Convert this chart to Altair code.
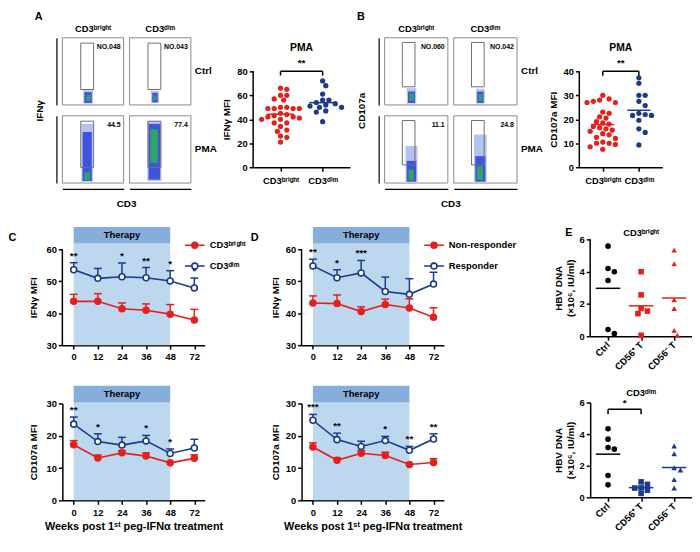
import altair as alt
import pandas as pd

FONT = "Liberation Sans"
RED = "#E3211C"
NAVY = "#1B3A8A"
LIGHT = "#BDD7EE"
HEAD = "#85AEDC"
BRIGHT = "CD3ᵇʳⁱᵍʰᵗ"
DIM = "CD3ᵈⁱᵐ"

# ---------------- A / B flow dot plots (fractions of each frame) ----------------
flow_rows = ["Ctrl", "Ctrl", "PMA", "PMA"]
flow_cols = [BRIGHT, DIM, BRIGHT, DIM]
a_pct = ["NO.048", "NO.043", "44.5", "77.4"]
b_pct = ["NO.060", "NO.042", "11.1", "24.8"]
a_gate = [0.30, 0.51, 0.23, 0.92]
b_gate = [0.28, 0.48, 0.27, 0.93]
a_outer = [[0.34, 0.50, 0.02, 0.22], [0.35, 0.48, 0.03, 0.21], [0.31, 0.50, 0.02, 0.88], [0.29, 0.52, 0.03, 0.92]]
a_mid = [[0.36, 0.48, 0.03, 0.19], [0.37, 0.46, 0.04, 0.18], [0.33, 0.48, 0.03, 0.76], [0.31, 0.50, 0.05, 0.88]]
a_core = [[0.39, 0.46, 0.06, 0.15], [0.39, 0.44, 0.07, 0.14], [0.36, 0.45, 0.04, 0.16], [0.34, 0.46, 0.30, 0.80]]
b_outer = [[0.35, 0.50, 0.02, 0.25], [0.35, 0.49, 0.02, 0.24], [0.33, 0.52, 0.02, 0.55], [0.32, 0.52, 0.02, 0.72]]
b_mid = [[0.37, 0.48, 0.03, 0.20], [0.37, 0.47, 0.03, 0.20], [0.35, 0.50, 0.02, 0.33], [0.34, 0.50, 0.02, 0.40]]
b_core = [[0.39, 0.46, 0.06, 0.17], [0.39, 0.45, 0.06, 0.16], [0.38, 0.46, 0.04, 0.20], [0.37, 0.46, 0.05, 0.25]]

# ---------------- A / B PMA scatter (MFI) ----------------
a_bright = [66, 65, 60, 60, 57, 56, 50, 50, 49, 49, 49, 49, 45, 44, 43, 42, 42, 41, 40, 40, 37, 37, 34, 31, 30, 26, 25, 21]
a_dim = [72, 68, 61, 56, 56, 54, 53, 52, 51, 50, 50, 47, 46, 38]
b_bright = [30, 28.5, 28, 27.5, 27, 27, 23, 22.5, 21, 20.5, 19, 18.5, 18, 17, 16.5, 16, 15.5, 15, 14, 13.5, 12.5, 12, 10.5, 10, 10, 9.5, 8.5, 7.5]
b_dim = [37.3, 35, 30, 30, 27.5, 25.7, 22.5, 22, 21.6, 21.6, 19.6, 16, 14.5, 9.3]

# ---------------- C / D time courses ----------------
weeks = ["0", "12", "24", "36", "48", "72"]
c_ifn_bright = [43.7, 43.7, 41.4, 40.9, 39.7, 37.9]
c_ifn_bright_top = [45.9, 46.1, 43.2, 42.9, 42.7, 41.2]
c_ifn_dim = [53.6, 50.9, 51.4, 51.1, 50.1, 47.9]
c_ifn_dim_top = [55.8, 54.0, 55.7, 54.3, 53.3, 51.0]
c_ifn_stars = ["**", "", "*", "**", "*", "*"]
c_cd107_bright = [17.2, 13.1, 14.7, 13.7, 11.6, 13.0]
c_cd107_bright_top = [18.5, 14.0, 15.4, 14.7, 12.0, 14.1]
c_cd107_dim = [23.6, 18.2, 17.1, 18.4, 14.5, 16.2]
c_cd107_dim_top = [25.8, 20.6, 19.5, 20.1, 15.9, 18.9]
c_cd107_stars = ["**", "*", "", "*", "*", ""]
d_ifn_non = [43.2, 43.0, 40.5, 42.7, 41.6, 38.7]
d_ifn_non_top = [45.4, 45.7, 42.0, 44.4, 44.5, 41.7]
d_ifn_resp = [54.8, 51.1, 52.6, 46.8, 45.9, 49.1]
d_ifn_resp_top = [56.9, 53.6, 56.5, 51.3, 50.8, 52.8]
d_ifn_stars = ["**", "*", "***", "", "", "*"]
d_cd107_non = [16.5, 12.4, 14.6, 13.9, 11.1, 11.7]
d_cd107_non_top = [17.8, 13.2, 15.4, 14.9, 11.4, 12.9]
d_cd107_resp = [24.8, 18.8, 16.7, 18.5, 15.5, 19.0]
d_cd107_resp_top = [26.6, 20.8, 18.3, 19.8, 16.7, 20.6]
d_cd107_stars = ["***", "**", "", "*", "**", "**"]

# ---------------- E HBV DNA ----------------
e_groups = ["Ctrl", "CD56⁺ T", "CD56⁻ T"]
e_top_ctrl = [5.58, 4.2, 4.0, 3.45, 0.42, 0.16]
e_top_pos = [4.0, 2.56, 1.72, 1.56, 1.4, 0.06]
e_top_neg = [5.33, 4.48, 2.26, 1.72, 0.36, 0.06]
e_bot_ctrl = [4.34, 3.68, 3.15, 3.05, 1.38, 0.79]
e_bot_pos = [0.98, 0.82, 0.6, 0.59, 0.45, 0.25]
e_bot_neg = [3.25, 2.76, 1.87, 1.73, 1.12, 0.59]

IND = dict(color="independent", stroke="independent", fill="independent", shape="independent")


def mean(v):
    return sum(v) / len(v)


def swarm(vals, ypx, xpx, diam):
    order = sorted(range(len(vals)), key=lambda i: -vals[i])
    cands = [0]
    for k in range(1, 14):
        cands += [k, -k]
    step = diam * 0.55
    placed, offs = [], [0.0] * len(vals)
    for i in order:
        v = vals[i]
        for k in cands:
            xo = k * step
            if all((xo - px) ** 2 + ((v - pv) * ypx) ** 2 >= diam ** 2 * 0.9 for px, pv in placed):
                placed.append((xo, v))
                offs[i] = xo / xpx
                break
    return offs


def flow_chart(letter, ytitle, pct, gate, outer, mid, core, pw, ph):
    rows = []
    for i in range(4):
        base = dict(row=flow_rows[i], col=flow_cols[i])
        rows.append(dict(base, kind="frame", level="", x1=0, x2=1, y1=0, y2=1, label=""))
        for lvl, ext in (("outer", outer[i]), ("mid", mid[i]), ("core", core[i])):
            rows.append(dict(base, kind="cloud", level=lvl, x1=ext[0], x2=ext[1], y1=ext[2], y2=ext[3], label=""))
        rows.append(dict(base, kind="gate", level="", x1=gate[0], x2=gate[1], y1=gate[2], y2=gate[3], label=""))
        rows.append(dict(base, kind="pct", level="", x1=0.95, x2=0.95, y1=0.86, y2=0.86, label=pct[i]))
    df = pd.DataFrame(rows)
    xs = alt.Scale(domain=[0, 1], nice=False, zero=False)
    ys = alt.Scale(domain=[0, 1], nice=False, zero=False)
    xax = alt.Axis(labels=False, ticks=False, title=None, domain=True, domainWidth=1.2, offset=5, minExtent=0)
    yax = alt.Axis(labels=False, ticks=False, title=None, domain=True, domainWidth=1.2, offset=5, minExtent=0)
    X = lambda f: alt.X(f, scale=xs, axis=xax)
    Y = lambda f: alt.Y(f, scale=ys, axis=yax)
    frame = alt.Chart().mark_rect(fill="white", stroke="#8a8a8a", strokeWidth=1).encode(
        x=X("x1:Q"), x2="x2", y=Y("y1:Q"), y2="y2"
    ).transform_filter(alt.datum.kind == "frame")
    cloud = alt.Chart().mark_rect(opacity=0.9).encode(
        x=X("x1:Q"), x2="x2", y=Y("y1:Q"), y2="y2",
        color=alt.Color("level:N", scale=alt.Scale(domain=["outer", "mid", "core"], range=["#AEBBF2", "#3049D8", "#2FAE55"]), legend=None),
    ).transform_filter(alt.datum.kind == "cloud")
    gatebox = alt.Chart().mark_rect(fill=None, stroke="#6e6e6e", strokeWidth=1).encode(
        x=X("x1:Q"), x2="x2", y=Y("y1:Q"), y2="y2"
    ).transform_filter(alt.datum.kind == "gate")
    txt = alt.Chart().mark_text(align="right", baseline="middle", fontSize=7, fontWeight="bold", font=FONT).encode(
        x=X("x1:Q"), y=Y("y1:Q"), text="label:N"
    ).transform_filter(alt.datum.kind == "pct")
    lay = alt.layer(frame, cloud, gatebox, txt).properties(width=pw, height=ph)
    return lay.facet(
        data=df,
        row=alt.Row("row:N", sort=["Ctrl", "PMA"], title=ytitle,
                    header=alt.Header(labelOrient="right", labelAngle=0, labelFontSize=10,
                                      titleOrient="left", titleFontSize=10, labelPadding=3, titlePadding=2)),
        column=alt.Column("col:N", sort=[BRIGHT, DIM], title="CD3",
                          header=alt.Header(labelOrient="top", titleOrient="bottom", labelFontSize=9.5,
                                            titleFontSize=10, labelPadding=3, titlePadding=0)),
        spacing={"row": 9, "column": 4},
    ).properties(title=alt.Title(letter, anchor="start", fontSize=11, offset=2))


def mfi_scatter(g1, g2, ymax, yticks, ytitle, width, height, tick_drop, extra_px):
    names = [BRIGHT, DIM]
    ypx = height / ymax
    total = height + extra_px
    rows = []
    for gi, vals in enumerate((g1, g2)):
        offs = swarm(vals, ypx, width / 2.3, 5.8)
        for v, o in zip(vals, offs):
            rows.append(dict(grp=names[gi], x=gi + o, v=v))
    df = pd.DataFrame(rows)
    means = pd.DataFrame({"grp": names, "x": [-0.32, 0.68], "x2": [0.32, 1.32], "m": [mean(g1), mean(g2)]})
    br = pd.DataFrame({"x": [0, 0, 1], "x2": [1, 0, 1], "y": [ymax, ymax - tick_drop, ymax - tick_drop], "y2": [ymax, ymax, ymax]})
    star = pd.DataFrame({"x": [0.5], "y": [ymax], "t": ["**"]})
    axis_line = pd.DataFrame({"x": [-0.65], "y": [0], "y2": [ymax]})
    xs = alt.Scale(domain=[-0.65, 1.65], nice=False, zero=False)
    ys = alt.Scale(domain=[0, ymax * total / height], nice=False)
    cs = alt.Scale(domain=names, range=[RED, NAVY])
    xax = alt.Axis(values=[0, 1], labelExpr="datum.value == 0 ? '%s' : '%s'" % (BRIGHT, DIM), title=None, labelPadding=4)
    yax = alt.Axis(values=yticks, title=ytitle, titlePadding=5, domain=False, titleY=extra_px + height / 2)
    X = lambda f: alt.X(f, scale=xs, axis=xax)
    Y = lambda f: alt.Y(f, scale=ys, axis=yax)
    aline = alt.Chart(axis_line).mark_rule(strokeWidth=1.5, color="black").encode(x=X("x:Q"), y=Y("y:Q"), y2="y2")
    pts = alt.Chart(df).mark_circle(size=28, opacity=1).encode(
        x=X("x:Q"), y=Y("v:Q"), color=alt.Color("grp:N", scale=cs, legend=None))
    ml = alt.Chart(means).mark_rule(strokeWidth=1.5).encode(
        x=X("x:Q"), x2="x2", y=Y("m:Q"), color=alt.Color("grp:N", scale=cs, legend=None))
    brk = alt.Chart(br).mark_rule(strokeWidth=1.5, color="black").encode(
        x=X("x:Q"), x2="x2", y=Y("y:Q"), y2="y2")
    st = alt.Chart(star).mark_text(dy=-3, baseline="bottom", fontSize=10, fontWeight="bold", font=FONT).encode(
        x=X("x:Q"), y=Y("y:Q"), text="t:N")
    return alt.layer(aline, pts, ml, brk, st).properties(
        width=width, height=total, title=alt.Title("PMA", fontSize=10.5, offset=-16, frame="group"))


LEG_PATH = "M-1,0L-0.3,0M0.3,0L1,0M-0.3,0A0.3,0.3,0,1,1,0.3,0A0.3,0.3,0,1,1,-0.3,0Z"
WEEK_EXPR = "[" + ",".join("'%s'" % w for w in weeks) + "][datum.value]"


def ts_panel(lo, lo_top, hi, hi_top, stars, names, ydom, yticks, ytitle, xtitle, extra, show_legend, height, tpad, ext_px,
             width=144):
    idx = list(range(len(weeks)))
    rows = []
    for i in idx:
        rows.append(dict(i=i, s=names[0], v=lo[i], t=lo_top[i], star=""))
        rows.append(dict(i=i, s=names[1], v=hi[i], t=hi_top[i], star=stars[i]))
    df = pd.DataFrame(rows)
    top = ydom[1] + extra
    upp = (ydom[1] - ydom[0]) / height
    band = pd.DataFrame({"a": [0], "b": [4], "y": [ydom[0]], "y2": [top], "h2": [top + 5.2],
                         "hm": [top + 2.6], "mid": [2], "lab": ["Therapy"]})
    axis_line = pd.DataFrame({"x": [-0.47], "y": [ydom[0]], "y2": [ydom[1]]})
    xs = alt.Scale(domain=[-0.47, 5.43], nice=False, zero=False)
    ys = alt.Scale(domain=[ydom[0], ydom[1] + ext_px * upp], nice=False, zero=False)
    xax = alt.Axis(values=idx, labelExpr=WEEK_EXPR, title=xtitle, titleFontSize=11, titlePadding=4, labelPadding=3)
    if ext_px > 0:
        yax = alt.Axis(values=yticks, title=ytitle, titlePadding=tpad, domain=False, titleY=ext_px + height / 2)
    else:
        yax = alt.Axis(values=yticks, title=ytitle, titlePadding=tpad)
    X = lambda f: alt.X(f, scale=xs, axis=xax)
    Y = lambda f: alt.Y(f, scale=ys, axis=yax)
    strk = alt.Scale(domain=names, range=[RED, NAVY])
    fills = alt.Scale(domain=names, range=[RED, "white"])
    if show_legend:
        leg = alt.Legend(title=None, orient="none", legendX=123, legendY=ext_px - 15, symbolType=LEG_PATH,
                         symbolSize=400, symbolStrokeWidth=1.6, labelFont=FONT, labelFontWeight="bold",
                         labelFontSize=9.5, labelColor="black", rowPadding=3, labelOffset=4)
    else:
        leg = None
    S = lambda: alt.Stroke("s:N", scale=strk, legend=leg)
    bnd = alt.Chart(band).mark_rect(color=LIGHT, clip=False).encode(x=X("a:Q"), x2="b", y=Y("y:Q"), y2="y2")
    hdr = alt.Chart(band).mark_rect(color=HEAD, clip=False).encode(x=X("a:Q"), x2="b", y=Y("y2:Q"), y2="h2")
    htx = alt.Chart(band).mark_text(fontSize=9.5, fontWeight="bold", font=FONT, baseline="middle").encode(
        x=X("mid:Q"), y=Y("hm:Q"), text="lab:N")
    err = alt.Chart(df).mark_rule(strokeWidth=1.5).encode(x=X("i:Q"), y=Y("v:Q"), y2="t", stroke=S())
    cap = alt.Chart(df).mark_rule(strokeWidth=1.5, xOffset=-4, x2Offset=4).encode(
        x=X("i:Q"), x2="i", y=Y("t:Q"), stroke=S())
    ln = alt.Chart(df).mark_line(strokeWidth=1.6).encode(x=X("i:Q"), y=Y("v:Q"), stroke=S())
    pt = alt.Chart(df).mark_point(size=36, strokeWidth=1.6, opacity=1, fillOpacity=1, shape="circle").encode(
        x=X("i:Q"), y=Y("v:Q"), stroke=S(), fill=alt.Fill("s:N", scale=fills, legend=leg))
    stx = alt.Chart(df).mark_text(dy=-2, baseline="bottom", fontSize=10, fontWeight="bold", font=FONT).encode(
        x=X("i:Q"), y=Y("t:Q"), text="star:N")
    layers = [bnd, hdr, htx]
    if ext_px > 0:
        layers.append(alt.Chart(axis_line).mark_rule(strokeWidth=1.5, color="black").encode(
            x=X("x:Q"), y=Y("y:Q"), y2="y2"))
    layers += [err, cap, ln, pt, stx]
    return alt.layer(*layers).properties(width=width, height=height + ext_px)


def e_panel(ctrl, pos, neg, color, title, sig, height, ext_px, width=103):
    ypx = height / 6.0
    rows = []
    for gi, vals in enumerate((ctrl, pos, neg)):
        offs = swarm(vals, ypx, width / 3.08, 5.8)
        for v, o in zip(vals, offs):
            rows.append(dict(g=e_groups[gi], x=gi + o, v=v))
    df = pd.DataFrame(rows)
    means = pd.DataFrame({"g": e_groups, "x": [-0.37, 0.63, 1.63], "x2": [0.37, 1.37, 2.37],
                          "m": [mean(ctrl), mean(pos), mean(neg)]})
    axis_line = pd.DataFrame({"x": [-0.54], "y": [0], "y2": [6]})
    xs = alt.Scale(domain=[-0.54, 2.54], nice=False, zero=False)
    ys = alt.Scale(domain=[0, 6 + ext_px / ypx], nice=False)
    cs = alt.Scale(domain=e_groups, range=["black", color, color])
    sh = alt.Scale(domain=e_groups, range=["circle", "square", "triangle-up"])
    gexpr = "[" + ",".join("'%s'" % g for g in e_groups) + "][datum.value]"
    xax = alt.Axis(values=[0, 1, 2], labelExpr=gexpr, title=None, labelAngle=315, labelAlign="right",
                   labelBaseline="middle", labelPadding=3, labelOverlap=False, labelBound=False)
    ytl = ["HBV DNA", "(×10⁶, IU/ml)"]
    if ext_px > 0:
        yax = alt.Axis(values=[0, 2, 4, 6], title=ytl, titlePadding=4, domain=False, titleY=ext_px + height / 2)
    else:
        yax = alt.Axis(values=[0, 2, 4, 6], title=ytl, titlePadding=4)
    X = lambda f: alt.X(f, scale=xs, axis=xax)
    Y = lambda f: alt.Y(f, scale=ys, axis=yax)
    pts = alt.Chart(df).mark_point(filled=True, size=32, opacity=1).encode(
        x=X("x:Q"), y=Y("v:Q"),
        color=alt.Color("g:N", scale=cs, legend=None), shape=alt.Shape("g:N", scale=sh, legend=None))
    ml = alt.Chart(means).mark_rule(strokeWidth=1.5).encode(
        x=X("x:Q"), x2="x2", y=Y("m:Q"), color=alt.Color("g:N", scale=cs, legend=None))
    layers = [pts, ml]
    if ext_px > 0:
        layers.insert(0, alt.Chart(axis_line).mark_rule(strokeWidth=1.5, color="black").encode(
            x=X("x:Q"), y=Y("y:Q"), y2="y2"))
    if sig:
        br = pd.DataFrame({"x": [0, 0, 1], "x2": [1, 0, 1], "y": [5.57, 5.25, 5.25], "y2": [5.57, 5.57, 5.57]})
        st = pd.DataFrame({"x": [0.5], "y": [5.57], "t": ["*"]})
        layers.append(alt.Chart(br).mark_rule(strokeWidth=1.5, color="black").encode(
            x=X("x:Q"), x2="x2", y=Y("y:Q"), y2="y2"))
        layers.append(alt.Chart(st).mark_text(dy=-1, baseline="bottom", fontSize=10, fontWeight="bold", font=FONT).encode(
            x=X("x:Q"), y=Y("y:Q"), text="t:N"))
    if ext_px > 0:
        ttl = alt.Title(title, fontSize=9.5, offset=-(ext_px - 2), frame="group")
    else:
        ttl = alt.Title(title, fontSize=9.5, offset=0)
    return alt.layer(*layers).properties(width=width, height=height + ext_px, title=ttl)


XT = "Weeks post 1ˢᵗ peg-IFNα treatment"

a_flow = flow_chart("A", "IFNγ", a_pct, a_gate, a_outer, a_mid, a_core, 62, 68)
b_flow = flow_chart("B", "CD107a", b_pct, b_gate, b_outer, b_mid, b_core, 64, 68)
a_sc = mfi_scatter(a_bright, a_dim, 80, [0, 20, 40, 60, 80], "IFNγ MFI", 98, 97, 3.5, 34)
b_sc = mfi_scatter(b_bright, b_dim, 40, [0, 10, 20, 30, 40], "CD107a MFI", 84, 97, 1.8, 34)

c_top = ts_panel(c_ifn_bright, c_ifn_bright_top, c_ifn_dim, c_ifn_dim_top, c_ifn_stars, [BRIGHT, DIM],
                 [30, 60], [30, 40, 50, 60], "IFNγ MFI", None, 1.8, True, 97, 8, 23)
c_bot = ts_panel(c_cd107_bright, c_cd107_bright_top, c_cd107_dim, c_cd107_dim_top, c_cd107_stars, [BRIGHT, DIM],
                 [0, 30], [0, 10, 20, 30], "CD107a  MFI", XT, 0.3, False, 98, 8, 0)
d_top = ts_panel(d_ifn_non, d_ifn_non_top, d_ifn_resp, d_ifn_resp_top, d_ifn_stars, ["Non-responder", "Responder"],
                 [30, 60], [30, 40, 50, 60], "IFNγ MFI", None, 1.8, True, 97, 5, 23)
d_bot = ts_panel(d_cd107_non, d_cd107_non_top, d_cd107_resp, d_cd107_resp_top, d_cd107_stars, ["Non-responder", "Responder"],
                 [0, 30], [0, 10, 20, 30], "CD107a  MFI", XT, 0.3, False, 98, 5, 0)
e_top = e_panel(e_top_ctrl, e_top_pos, e_top_neg, RED, BRIGHT, False, 98, 13)
e_bot = e_panel(e_bot_ctrl, e_bot_pos, e_bot_neg, NAVY, DIM, True, 96, 0)

LEFT_T = dict(orient="left", anchor="end", angle=0, align="right", baseline="top", fontSize=11, offset=4, dy=6)
C = alt.vconcat(c_top, c_bot, spacing=24).properties(title=alt.Title("C", **LEFT_T)).resolve_scale(**IND).resolve_legend(**IND)
D = alt.vconcat(d_top, d_bot, spacing=24).properties(title=alt.Title("D", **LEFT_T)).resolve_scale(**IND).resolve_legend(**IND)
E = alt.vconcat(e_top, e_bot, spacing=16).properties(
    title=alt.Title("E", anchor="start", fontSize=11, offset=2, dy=14, dx=12)).resolve_scale(**IND).resolve_legend(**IND)

left_top = alt.hconcat(a_flow, a_sc, spacing=4).resolve_scale(**IND).resolve_legend(**IND)
right_top = alt.hconcat(b_flow, b_sc, spacing=4).resolve_scale(**IND).resolve_legend(**IND)
top_row = alt.hconcat(left_top, right_top, spacing=6).resolve_scale(**IND).resolve_legend(**IND)
cd = alt.hconcat(C, D, spacing=4).resolve_scale(**IND).resolve_legend(**IND)
bottom_row = alt.hconcat(cd, E, spacing=36).resolve_scale(**IND).resolve_legend(**IND)

chart = alt.vconcat(top_row, bottom_row, spacing=18).resolve_scale(**IND).resolve_legend(**IND).properties(
    padding=0
).configure(font=FONT).configure_axis(
    labelFont=FONT, titleFont=FONT, labelFontWeight="bold", titleFontWeight="bold", labelFontSize=9.5,
    titleFontSize=10, labelColor="black", titleColor="black", domainColor="black", tickColor="black",
    domainWidth=1.5, tickWidth=1.5, tickSize=4, grid=False, labelPadding=2, minExtent=0
).configure_view(stroke=None).configure_title(
    font=FONT, fontWeight="bold", fontSize=10, color="black"
).configure_header(
    labelFont=FONT, titleFont=FONT, labelFontWeight="bold", titleFontWeight="bold", labelColor="black", titleColor="black"
)

chart.save("out.html", embed_options={"renderer": "svg", "actions": False})
